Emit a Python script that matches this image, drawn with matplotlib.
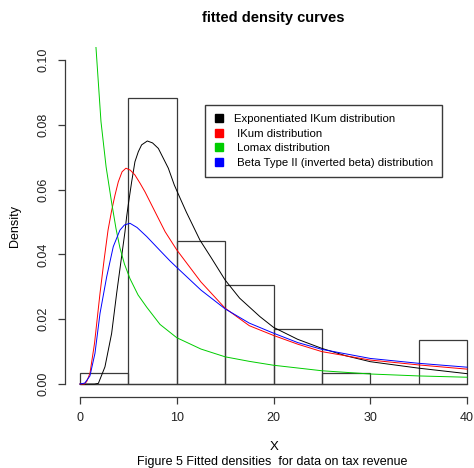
import numpy as np
import matplotlib
matplotlib.use("Agg")
from matplotlib import pyplot as plt
from matplotlib.lines import Line2D

plt.rcParams['font.family'] = ['Liberation Sans', 'DejaVu Sans']

# histogram of tax revenue (counts per bin of width 5)
bin_left = [0, 5, 10, 15, 20, 25, 30, 35]
counts = [1, 26, 13, 9, 5, 1, 0, 4]
bin_width = 5

# fitted curves
x_eikum = [0, 1.5, 1.9, 2.58, 3.27, 3.79, 4.3, 4.65, 4.82, 5.0, 5.34, 5.68, 6.03, 6.37, 6.96,
           7.5, 8.1, 9.13, 9.75, 10.4, 11.0, 12.4, 13.6, 15.0, 16.5, 18.6, 20.0, 22.5, 25.0,
           27.5, 30.0, 35.0, 40.0]
y_eikum = [0, 0.0, 0.0002, 0.0053, 0.0156, 0.028, 0.0393, 0.047, 0.0516, 0.0555, 0.0624,
           0.0686, 0.0717, 0.0738, 0.0750, 0.0744, 0.0727, 0.0666, 0.0614, 0.0570, 0.0530,
           0.0444, 0.0388, 0.0321, 0.0265, 0.0208, 0.0175, 0.0138, 0.0110, 0.0087, 0.0069,
           0.0049, 0.0032]

x_ikum = [0, 0.45, 0.7, 1.03, 1.5, 2.07, 2.5, 2.9, 3.27, 3.62, 3.96, 4.35, 4.75, 5.2, 5.68,
          6.2, 6.72, 7.75, 8.8, 10.0, 12.5, 15.0, 17.5, 20.0, 22.5, 25.0, 30.0, 35.0, 40.0]
y_ikum = [0, 0.0, 0.0008, 0.0033, 0.0125, 0.028, 0.0385, 0.0475, 0.0535, 0.0583, 0.0624,
          0.0655, 0.0666, 0.0660, 0.0645, 0.0620, 0.0593, 0.0532, 0.0470, 0.0414, 0.0315,
          0.0234, 0.0180, 0.0150, 0.0123, 0.0100, 0.0074, 0.0059, 0.0046]

x_lomax = [1.3, 1.65, 2.17, 2.7, 3.27, 3.72, 4.13, 4.6, 5.17, 6.0, 6.9, 8.27, 10.0, 12.5,
           15.0, 17.5, 20.0, 25.0, 30.0, 35.0, 40.0]
y_lomax = [0.125, 0.104, 0.081, 0.067, 0.0560, 0.0480, 0.0420, 0.0370, 0.0325, 0.0275,
           0.0237, 0.0184, 0.0143, 0.0108, 0.0084, 0.0070, 0.0058, 0.0041, 0.0031, 0.0025,
           0.0021]

x_beta2 = [0, 0.5, 1.03, 1.55, 2.07, 2.76, 3.44, 4.13, 4.6, 5.17, 5.9, 6.9, 8.27, 9.3, 10.0,
           12.5, 15.0, 17.5, 20.0, 22.5, 25.0, 30.0, 35.0, 40.0]
y_beta2 = [0, 0.0003, 0.0025, 0.0095, 0.0218, 0.0331, 0.0424, 0.0475, 0.0491, 0.0496, 0.0483,
           0.0455, 0.0412, 0.0380, 0.0360, 0.0290, 0.0232, 0.0188, 0.0157, 0.0128, 0.0107,
           0.0079, 0.0064, 0.0052]

labels = ['Exponentiated IKum distribution', ' IKum distribution',
          ' Lomax distribution', ' Beta Type II (inverted beta) distribution']
colors = ['black', 'red', '#00CD00', 'blue']
edge = '#3a3a3a'

fig = plt.figure(figsize=(4.74, 4.68), dpi=100)
ax = fig.add_axes([64.5 / 474, 1 - 397 / 468, 418 / 474, 350 / 468])

dens = np.array(counts) / (sum(counts) * bin_width)
ax.bar(bin_left, dens, width=bin_width, align='edge', fill=False,
       edgecolor=edge, linewidth=0.9)
ax.plot([0, 40], [0, 0], color=edge, lw=0.9)

ax.plot(x_eikum, y_eikum, color=colors[0], lw=0.7)
ax.plot(x_ikum, y_ikum, color=colors[1], lw=0.7)
ax.plot(x_lomax, y_lomax, color=colors[2], lw=0.7)
ax.plot(x_beta2, y_beta2, color=colors[3], lw=0.7)

ax.set_xlim(-1.6, 41.6)
ax.set_ylim(-0.004, 0.104)
for s in ['top', 'right']:
    ax.spines[s].set_visible(False)
ax.spines['left'].set_bounds(0, 0.10)
ax.spines['bottom'].set_bounds(0, 40)
for s in ['left', 'bottom']:
    ax.spines[s].set_color(edge)
    ax.spines[s].set_linewidth(0.9)
ax.set_xticks([0, 10, 20, 30, 40])
ax.set_yticks([0.00, 0.02, 0.04, 0.06, 0.08, 0.10])
ax.set_yticklabels(['0.00', '0.02', '0.04', '0.06', '0.08', '0.10'], rotation=90, va='center')
ax.tick_params(direction='out', length=5, width=0.9, color=edge, labelsize=9, pad=6,
               labelcolor='#222222')

handles = [Line2D([], [], marker='s', linestyle='none', color=c, markersize=6) for c in colors]
ax.legend(handles, labels, loc='upper left', bbox_to_anchor=(205 / 474, 1 - 105 / 468),
          bbox_transform=fig.transFigure, borderaxespad=0, fancybox=False, framealpha=1,
          edgecolor=edge, handlelength=0.8, handletextpad=0.95, borderpad=0.8,
          labelspacing=0.4, fontsize=8.2)

fig.text(273 / 474, 1 - 18 / 468, 'fitted density curves', ha='center', va='center',
         fontsize=10.5, fontweight='bold')
fig.text(274 / 474, 1 - 447 / 468, 'X', ha='center', va='center', fontsize=9.5)
fig.text(272 / 474, 1 - 462 / 468, 'Figure 5 Fitted densities  for data on tax revenue',
         ha='center', va='center', fontsize=9)
fig.text(15 / 474, 1 - 226 / 468, 'Density', ha='center', va='center', rotation=90, fontsize=9)

fig.savefig('out.png', dpi=100)
